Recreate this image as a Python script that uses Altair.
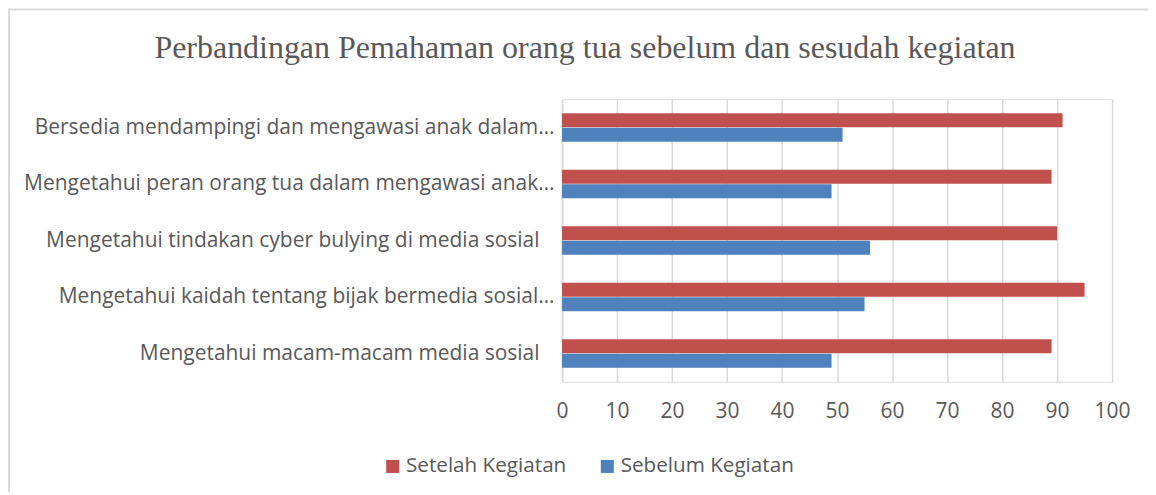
import altair as alt
import pandas as pd

title_text = "Perbandingan Pemahaman orang tua sebelum dan sesudah kegiatan"
categories = [
    "Bersedia mendampingi dan mengawasi anak dalam…",
    "Mengetahui peran orang tua dalam mengawasi anak…",
    "Mengetahui tindakan cyber bulying di media sosial",
    "Mengetahui kaidah tentang bijak bermedia sosial…",
    "Mengetahui macam-macam media sosial",
]
setelah = [91, 89, 90, 95, 89]
sebelum = [51, 49, 56, 55, 49]
series = ["Setelah Kegiatan", "Sebelum Kegiatan"]
colors = ["#C0504D", "#4F81BD"]
x_ticks = [0, 10, 20, 30, 40, 50, 60, 70, 80, 90, 100]

rows = []
for c, a, b in zip(categories, setelah, sebelum):
    rows.append({"cat": c, "series": series[0], "value": a})
    rows.append({"cat": c, "series": series[1], "value": b})
df = pd.DataFrame(rows)

W, H = 551, 283
PL, PT = 555, 91
FONT = "Open Sans"
FS = 21

border = alt.Chart(pd.DataFrame({"k": [0]})).mark_rect(
    fill=None, stroke="#D9D9D9", strokeWidth=2
).encode(
    x=alt.value(-PL + 1), x2=alt.value(W + 100),
    y=alt.value(-PT + 1), y2=alt.value(H + 200),
)

title = alt.Chart(pd.DataFrame({"t": [title_text]})).mark_text(
    font="Liberation Serif", fontSize=32, color="#595959",
    align="center", baseline="alphabetic"
).encode(text="t:N", x=alt.value(586 - 563), y=alt.value(58 - 99))

bars = alt.Chart(df).mark_bar(size=14).encode(
    y=alt.Y("cat:N", sort=categories, title=None,
            scale=alt.Scale(paddingInner=0.49, paddingOuter=0.245),
            axis=alt.Axis(labelFont=FONT, labelFontSize=FS,
                          labelColor="#595959", labelPadding=8, labelLimit=600,
                          labelExpr="indexof(datum.label, '…') < 0 ? datum.label + '\u2800' : datum.label",
                          ticks=False, domain=True, domainColor="#D9D9D9",
                          domainWidth=1.5, grid=False)),
    yOffset=alt.YOffset("series:N", sort=series,
                        scale=alt.Scale(paddingInner=0, paddingOuter=0)),
    x=alt.X("value:Q", title=None,
            scale=alt.Scale(domain=[0, 100], nice=False),
            axis=alt.Axis(values=x_ticks, labelFont=FONT,
                          labelFontSize=FS, labelColor="#595959",
                          labelPadding=19, labelFlush=False, labelOverlap=False,
                          ticks=False, domain=False,
                          grid=True, gridColor="#D9D9D9", gridWidth=1.5)),
    color=alt.Color("series:N", sort=series,
                    scale=alt.Scale(domain=series, range=colors),
                    legend=alt.Legend(title=None, orient="none",
                                      direction="horizontal",
                                      legendX=-180, legendY=357,
                                      symbolType="square", symbolSize=170,
                                      symbolStrokeWidth=0,
                                      labelFont=FONT, labelLimit=400,
                                      labelFontSize=20.7, labelColor="#595959",
                                      columnPadding=30, labelOffset=3)),
)

chart = alt.layer(border, title, bars).properties(
    width=W, height=H,
    autosize=alt.AutoSizeParams(type="none"),
    padding={"left": PL, "top": PT, "right": 36, "bottom": 110},
).configure_view(stroke=None).configure(background="white")

chart.save("out.html", embed_options={"renderer": "svg", "actions": False})
